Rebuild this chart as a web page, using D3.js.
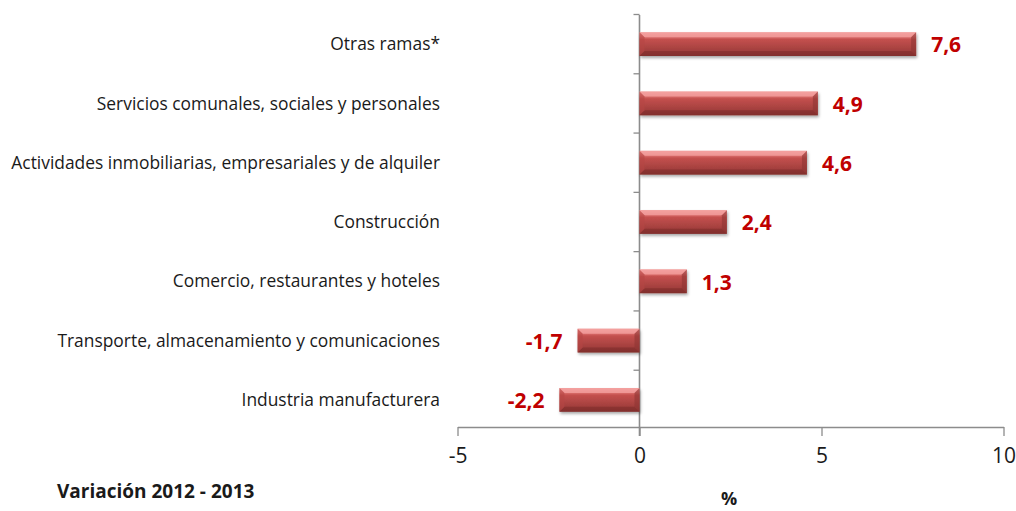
<!DOCTYPE html>
<html>
<head>
<meta charset="utf-8">
<script src="https://cdn.jsdelivr.net/npm/d3@7"></script>
<style>
  html, body { margin: 0; padding: 0; background: #fff; }
  svg { display: block; }
</style>
</head>
<body>
<svg id="chart" width="1016" height="511"></svg>
<script>
// Sector names (top to bottom) and their 2012-2013 change in percent
const categories = [
  "Otras ramas*",
  "Servicios comunales, sociales y personales",
  "Actividades inmobiliarias, empresariales y de alquiler",
  "Construcción",
  "Comercio, restaurantes y hoteles",
  "Transporte, almacenamiento y comunicaciones",
  "Industria manufacturera"
];
const values = [7.6, 4.9, 4.6, 2.4, 1.3, -1.7, -2.2];
const valueLabels = ["7,6", "4,9", "4,6", "2,4", "1,3", "-1,7", "-2,2"];
const xTicks = [-5, 0, 5, 10];

const svg = d3.select("#chart");
const font = "'Open Sans', 'Liberation Sans', Arial, sans-serif";

const x = d3.scaleLinear().domain([-5, 10]).range([457.5, 1003.5]);
const y = d3.scaleBand().domain(categories).range([14.5, 429.5]).paddingInner(0.6).paddingOuter(0.3);
const step = y.step();

// Gradient and shadow for the bevelled bars
const defs = svg.append("defs");
const grad = defs.append("linearGradient").attr("id", "barGrad")
  .attr("x1", 0).attr("y1", 0).attr("x2", 0).attr("y2", 1);
[[0, "#f29a98"], [0.18, "#e07674"], [0.3, "#c4504e"], [0.75, "#a4403e"], [1, "#883331"]]
  .forEach(([o, c]) => grad.append("stop").attr("offset", o).attr("stop-color", c));
const shadow = defs.append("filter").attr("id", "shadow")
  .attr("x", "-10%").attr("y", "-30%").attr("width", "120%").attr("height", "170%");
shadow.append("feDropShadow").attr("dx", 1).attr("dy", 2).attr("stdDeviation", 1.6)
  .attr("flood-color", "#000").attr("flood-opacity", 0.35);

// Horizontal value axis
const axisY = 427;
const xAxis = svg.append("g").attr("transform", `translate(0,${axisY})`)
  .call(d3.axisBottom(x).tickValues(xTicks).tickSize(9).tickSizeOuter(0).tickPadding(12)
    .tickFormat(d => String(d)));
xAxis.select(".domain").attr("stroke", "#8c8c8c").attr("stroke-width", 1.3);
xAxis.selectAll(".tick line").attr("stroke", "#8c8c8c").attr("stroke-width", 1.3);
xAxis.selectAll(".tick text").attr("fill", "#1a1a1a").attr("font-family", font)
  .attr("font-size", 21);

// Vertical category axis at zero
const x0 = x(0);
svg.append("line").attr("x1", x0).attr("x2", x0).attr("y1", 15).attr("y2", axisY + 9)
  .attr("stroke", "#8c8c8c").attr("stroke-width", 1.6);
const bounds = d3.range(categories.length).map(i => y.range()[0] + i * step);
svg.append("g").selectAll("line").data(bounds).join("line")
  .attr("x1", x0 - 6).attr("x2", x0).attr("y1", d => d).attr("y2", d => d)
  .attr("stroke", "#8c8c8c").attr("stroke-width", 1.3);

// Category labels
svg.append("g").selectAll("text").data(categories).join("text")
  .attr("x", 440).attr("y", d => y(d) + y.bandwidth() / 2)
  .attr("dy", "0.35em").attr("text-anchor", "end")
  .attr("font-family", font).attr("font-size", 17.4).attr("fill", "#1a1a1a")
  .text(d => d);

// Bars
const data = categories.map((c, i) => ({ c, v: values[i], label: valueLabels[i] }));
const bars = svg.append("g").selectAll("g").data(data).join("g");
bars.append("rect")
  .attr("x", d => Math.min(x(d.v), x0))
  .attr("y", d => y(d.c))
  .attr("width", d => Math.abs(x(d.v) - x0))
  .attr("height", y.bandwidth())
  .attr("fill", "url(#barGrad)")
  .attr("filter", "url(#shadow)");
// Bevel edges
const bev = 5;
bars.each(function (d) {
  const g = d3.select(this);
  const l = Math.min(x(d.v), x0), r = Math.max(x(d.v), x0);
  const t = y(d.c), b = t + y.bandwidth();
  g.append("polygon")
    .attr("points", [[l, t], [r, t], [r - bev, t + bev], [l + bev, t + bev]].join(" "))
    .attr("fill", "#f4a3a1").attr("opacity", 0.75);
  g.append("polygon")
    .attr("points", [[l, b], [r, b], [r - bev, b - bev], [l + bev, b - bev]].join(" "))
    .attr("fill", "#7e2c2a").attr("opacity", 0.55);
  g.append("polygon")
    .attr("points", [[l, t], [l + bev, t + bev], [l + bev, b - bev], [l, b]].join(" "))
    .attr("fill", "#b64644").attr("opacity", 0.6);
  g.append("polygon")
    .attr("points", [[r, t], [r - bev, t + bev], [r - bev, b - bev], [r, b]].join(" "))
    .attr("fill", "#8e3533").attr("opacity", 0.6);
});

// Value labels
svg.append("g").selectAll("text").data(data).join("text")
  .attr("x", d => d.v >= 0 ? x(d.v) + 15 : x(d.v) - 15)
  .attr("y", d => y(d.c) + y.bandwidth() / 2 + 1)
  .attr("dy", "0.35em")
  .attr("text-anchor", d => d.v >= 0 ? "start" : "end")
  .attr("font-family", font).attr("font-weight", "bold").attr("font-size", 21)
  .attr("fill", "#c00000")
  .text(d => d.label);

// Axis title and period note
svg.append("text").attr("x", 729).attr("y", 505).attr("text-anchor", "middle")
  .attr("font-family", font).attr("font-weight", "bold").attr("font-size", 18)
  .attr("fill", "#1a1a1a").text("%");
svg.append("text").attr("x", 57).attr("y", 498)
  .attr("font-family", font).attr("font-weight", "bold").attr("font-size", 19)
  .attr("fill", "#1a1a1a").text("Variación 2012 - 2013");
</script>
</body>
</html>
